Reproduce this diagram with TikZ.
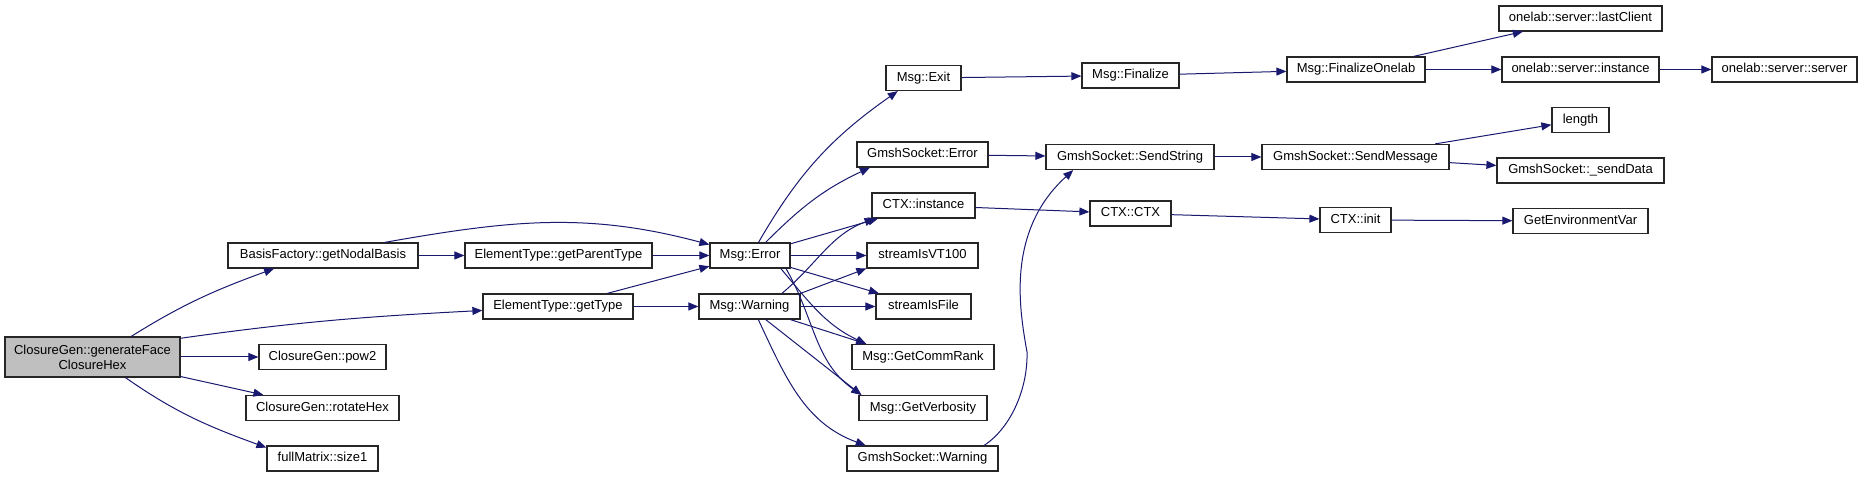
\documentclass[tikz,border=0pt]{standalone}
\usepackage{fontspec}
\setmainfont{Liberation Sans}
\usetikzlibrary{arrows.meta}
\definecolor{edgeblue}{HTML}{191970}
\definecolor{rootgray}{HTML}{BFBFBF}

\begin{document}
\begin{tikzpicture}[x=0.75pt,y=0.75pt,
  box/.style={draw=black!85,line width=0.9pt,inner sep=0pt,minimum height=18.75pt,font=\fontsize{9.75}{11.25}\selectfont},
  fn/.style={box,text height=7.2pt,text depth=2pt,minimum width=#1*0.75pt},
  call/.style={draw=edgeblue,line width=0.75pt,-{Triangle[length=7.5pt,width=6pt]}}]
\useasboundingbox (0,0) rectangle (1861,477);
\node[box,fill=rootgray,minimum width=131.25pt,minimum height=30pt,align=center] (gen) at (92.5,120) {ClosureGen::generateFace\\ClosureHex};
\node[fn=190] (basis) at (323,221.5) {BasisFactory::getNodalBasis};
\node[fn=127] (pow2) at (322.5,120) {ClosureGen::pow2};
\node[fn=153] (rotate) at (322.5,69) {ClosureGen::rotateHex};
\node[fn=111] (size1) at (322.5,18.5) {fullMatrix::size1};
\node[fn=187] (parent) at (558.5,221.5) {ElementType::getParentType};
\node[fn=150] (gettype) at (558,170.5) {ElementType::getType};
\node[fn=80] (error) at (750,221.5) {Msg::Error};
\node[fn=101] (warning) at (749.5,170.5) {Msg::Warning};
\node[fn=75] (exit) at (923.5,399) {Msg::Exit};
\node[fn=131] (gserror) at (922.5,322.5) {GmshSocket::Error};
\node[fn=103] (ctxinst) at (923.5,271.5) {CTX::instance};
\node[fn=111] (vt100) at (922.5,221.5) {streamIsVT100};
\node[fn=95] (isfile) at (923.5,170.5) {streamIsFile};
\node[fn=142] (commrank) at (923,120) {Msg::GetCommRank};
\node[fn=128] (verbosity) at (923,69) {Msg::GetVerbosity};
\node[fn=151] (gswarning) at (922.5,18.5) {GmshSocket::Warning};
\node[fn=97] (finalize) at (1130.5,401.5) {Msg::Finalize};
\node[fn=168] (sendstring) at (1130,320) {GmshSocket::SendString};
\node[fn=81] (ctxctx) at (1130.5,263.5) {CTX::CTX};
\node[fn=138] (finonelab) at (1356,407.5) {Msg::FinalizeOnelab};
\node[fn=187] (sendmsg) at (1355.5,320) {GmshSocket::SendMessage};
\node[fn=71] (ctxinit) at (1355.5,257) {CTX::init};
\node[fn=163] (lastclient) at (1580.5,458.5) {onelab::server::lastClient};
\node[fn=157] (olinst) at (1580.5,407.5) {onelab::server::instance};
\node[fn=57] (length) at (1580.5,357) {length};
\node[fn=167] (senddata) at (1580.5,306.5) {GmshSocket::\_sendData};
\node[fn=135] (getenv) at (1580.5,256) {GetEnvironmentVar};
\node[fn=145] (olserver) at (1784.5,407.5) {onelab::server::server};

\draw[call] (gen.28) to[out=32,in=200] (basis.195);
\draw[call] (gen.12) to[out=8,in=183] (gettype.183);
\draw[call] (gen) -- (pow2);
\draw[call] (gen) -- (rotate);
\draw[call] (gen.-32) to[out=-35,in=160] (size1.169);
\draw[call] (basis) -- (parent);
\draw[call] (basis.12) to[out=10,in=165] (error.165);
\draw[call] (parent) -- (error);
\draw[call] (gettype) -- (error);
\draw[call] (gettype) -- (warning);
\draw[call] (error.57) to[out=60,in=215] (exit.207);
\draw[call] (error.40) to[out=45,in=205] (gserror.194);
\draw[call] (error) -- (ctxinst);
\draw[call] (error) -- (vt100);
\draw[call] (error) -- (isfile);
\draw[call] (error.-23) to[out=-50,in=155] (commrank.167);
\draw[call] (error.-20) to[out=-60,in=145] (verbosity.168);
\draw[call] (warning.22) to[out=40,in=200] (ctxinst.195);
\draw[call] (warning.north east) -- (vt100.193);
\draw[call] (warning) -- (isfile);
\draw[call] (warning) -- (commrank.167);
\draw[call] (warning.-39) -- (verbosity.168);
\draw[call] (warning.-56) to[out=-65,in=160] (gswarning.167);
\draw[call] (gswarning.12) .. controls (1012,50) and (1028,90) .. (1027,125) .. controls (1020,165) and (1005,245) .. (sendstring.193);
\draw[call] (gserror) -- (sendstring);
\draw[call] (ctxinst) -- (ctxctx);
\draw[call] (exit) -- (finalize);
\draw[call] (finalize) -- (finonelab);
\draw[call] (finonelab) -- (lastclient);
\draw[call] (finonelab) -- (olinst);
\draw[call] (olinst) -- (olserver);
\draw[call] (sendstring) -- (sendmsg);
\draw[call] (sendmsg) -- (length);
\draw[call] (sendmsg) -- (senddata);
\draw[call] (ctxctx) -- (ctxinit);
\draw[call] (ctxinit) -- (getenv);
\end{tikzpicture}
\end{document}
